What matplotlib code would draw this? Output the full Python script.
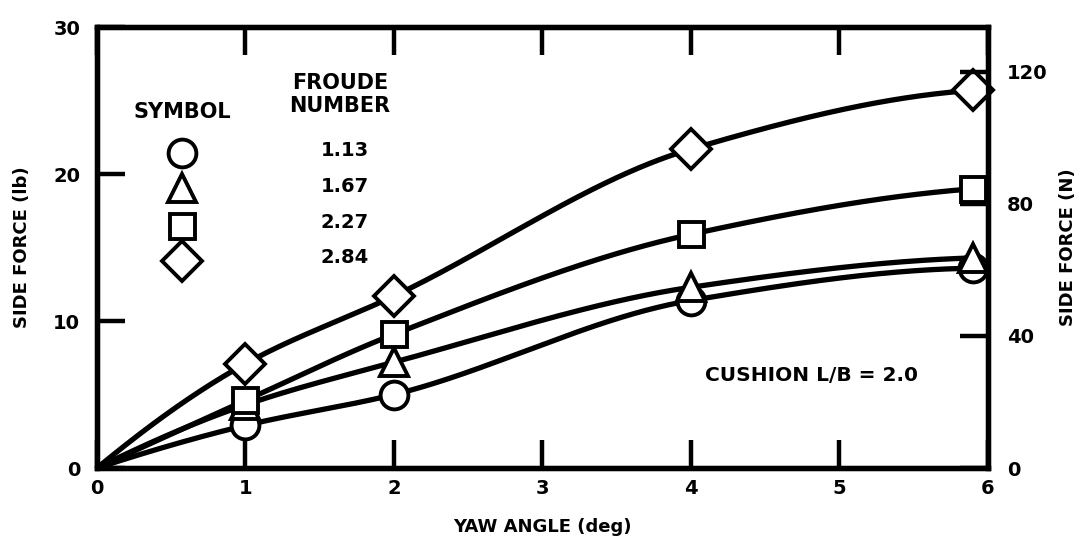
import numpy as np
import matplotlib.pyplot as plt

plt.rcParams['font.family'] = ['DejaVu Sans']
plt.rcParams['font.weight'] = 'bold'
plt.rcParams['axes.labelweight'] = 'bold'

# yaw angle (deg) and side force (lb) for each Froude number
yaw = [0, 1, 2, 4, 5.9]
froude = ['1.13', '1.67', '2.27', '2.84']
force_113 = [0, 2.9, 5.0, 11.4, 13.6]
force_167 = [0, 4.3, 7.2, 12.3, 14.3]
force_227 = [0, 4.6, 9.1, 15.9, 19.0]
force_284 = [0, 7.1, 11.7, 21.7, 25.7]
symbols = ['o', '^', 's', 'D']
sizes = [20, 20, 18, 20]

LB_TO_N = 4.448


def pchip(x, y, xn):
    # monotone cubic through the points, for the faired curves
    x = np.asarray(x, float)
    y = np.asarray(y, float)
    h = np.diff(x)
    d = np.diff(y) / h
    m = np.zeros_like(y)
    for k in range(1, len(x) - 1):
        if d[k - 1] * d[k] > 0:
            w1 = 2 * h[k] + h[k - 1]
            w2 = h[k] + 2 * h[k - 1]
            m[k] = (w1 + w2) / (w1 / d[k - 1] + w2 / d[k])
    m[0] = ((2 * h[0] + h[1]) * d[0] - h[0] * d[1]) / (h[0] + h[1])
    m[-1] = ((2 * h[-1] + h[-2]) * d[-1] - h[-1] * d[-2]) / (h[-1] + h[-2])
    idx = np.clip(np.searchsorted(x, xn) - 1, 0, len(h) - 1)
    t = (xn - x[idx]) / h[idx]
    h00 = 2 * t**3 - 3 * t**2 + 1
    h10 = t**3 - 2 * t**2 + t
    h01 = -2 * t**3 + 3 * t**2
    h11 = t**3 - t**2
    return (h00 * y[idx] + h10 * h[idx] * m[idx] + h01 * y[idx + 1]
            + h11 * h[idx] * m[idx + 1])


fig = plt.figure(figsize=(10.81, 5.43), dpi=100)
ax = fig.add_axes([0.0897, 0.138, 0.824, 0.812])

xs = np.linspace(0, yaw[-1], 300)
for vals, mk, ms in zip([force_113, force_167, force_227, force_284], symbols, sizes):
    ax.plot(xs, pchip(yaw, vals, xs), color='black', lw=3.8, zorder=2,
            solid_capstyle='round')
    ax.plot(yaw[1:], vals[1:], ls='none', marker=mk, ms=ms, mfc='white',
            mec='black', mew=2.8, zorder=3, clip_on=False)

ax.set_xlim(0, 6)
ax.set_ylim(0, 30)
ax.set_xticks(range(0, 7))
ax.set_yticks([0, 10, 20, 30])
for s in ax.spines.values():
    s.set_linewidth(3.8)
ax.tick_params(direction='in', length=20, width=3.2, labelsize=14, top=True,
               pad=8)
ax.tick_params(axis='y', pad=12)
ax.set_xlabel('YAW ANGLE (deg)', fontsize=13, labelpad=14)
ax.set_ylabel('SIDE FORCE (lb)', fontsize=13, labelpad=16)

ax2 = ax.twinx()
ax2.set_ylim(0, 30 * LB_TO_N)
ax2.set_yticks([0, 40, 80, 120])
ax2.tick_params(direction='in', length=20, width=3.2, labelsize=14, pad=14)
for s in ax2.spines.values():
    s.set_linewidth(3.8)
ax2.set_ylabel('SIDE FORCE (N)', fontsize=13, labelpad=8)

# key to the symbols
ax.text(0.096, 0.807, 'SYMBOL', transform=ax.transAxes, ha='center',
        va='center', fontsize=15)
ax.text(0.273, 0.847, 'FROUDE\nNUMBER', transform=ax.transAxes, ha='center',
        va='center', fontsize=15, linespacing=1.15)
key_y = [0.714, 0.635, 0.549, 0.469]
num_y = [0.721, 0.639, 0.558, 0.478]
for mk, ms, fr, ky, ny in zip(symbols, sizes, froude, key_y, num_y):
    ax.plot(0.096, ky, marker=mk, ms=ms, mfc='white', mec='black', mew=2.8,
            transform=ax.transAxes, ls='none')
    ax.text(0.278, ny, fr, transform=ax.transAxes, ha='center', va='center',
            fontsize=14)

ax.text(4.81, 6.3, 'CUSHION L/B = 2.0', ha='center', va='center',
        fontsize=14.5)

fig.savefig('out.png', dpi=100)
